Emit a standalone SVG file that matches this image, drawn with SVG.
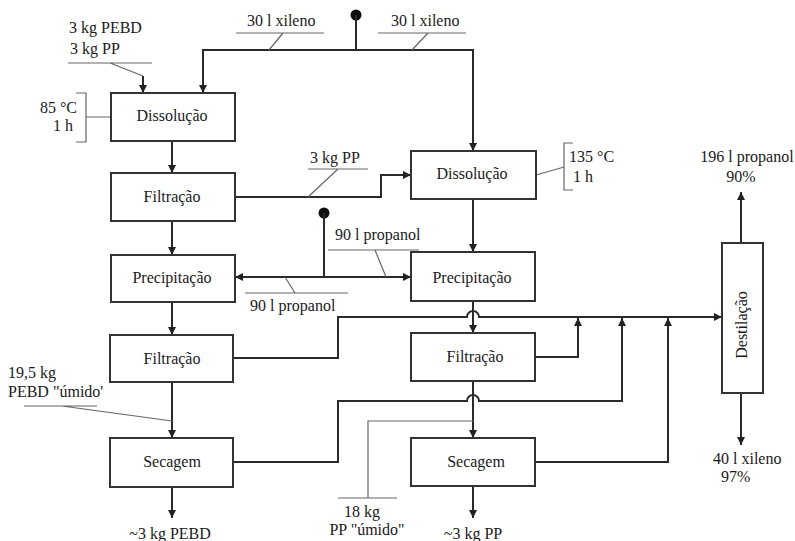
<svg xmlns="http://www.w3.org/2000/svg" width="795" height="541" viewBox="0 0 795 541">
<defs>
<marker id="ar" viewBox="0 0 10 10" refX="10" refY="5" markerWidth="8" markerHeight="8" markerUnits="userSpaceOnUse" orient="auto">
<path d="M0,0 L10,5 L0,10 z" fill="#222"/>
</marker>
<style>
.box{fill:#fff;stroke:#333;stroke-width:2}
.ln{fill:none;stroke:#2a2a2a;stroke-width:2}
.thin{fill:none;stroke:#666;stroke-width:1.2}
.t{font-size:16px;fill:#1a1a1a}
.c{text-anchor:middle}
.e{text-anchor:end}
</style>
</defs>
<rect width="795" height="541" fill="#fff"/>

<g id="connectors">
<circle cx="356" cy="15" r="5.5" fill="#111"/>
<path class="ln" d="M356,15 V50"/>
<path class="ln" d="M356,50 H203 V93" marker-end="url(#ar)"/>
<path class="ln" d="M356,50 H473 V151" marker-end="url(#ar)"/>
<path class="ln" d="M143,76 V93" marker-end="url(#ar)"/>
<path class="ln" d="M172,141 V173" marker-end="url(#ar)"/>
<path class="ln" d="M172,221 V255" marker-end="url(#ar)"/>
<path class="ln" d="M172,302 V335" marker-end="url(#ar)"/>
<path class="ln" d="M172,382 V438" marker-end="url(#ar)"/>
<path class="ln" d="M172,487 V518" marker-end="url(#ar)"/>
<path class="ln" d="M235,197 H381 V175 H411" marker-end="url(#ar)"/>
<path class="ln" d="M473,199 V252" marker-end="url(#ar)"/>
<circle cx="324" cy="213" r="5.5" fill="#111"/>
<path class="ln" d="M324,213 V277"/>
<path class="ln" d="M324,277 H235" marker-end="url(#ar)"/>
<path class="ln" d="M324,277 H411" marker-end="url(#ar)"/>
<path class="ln" d="M473,301 V333" marker-end="url(#ar)"/>
<path class="ln" d="M473,381 V438" marker-end="url(#ar)"/>
<path class="ln" d="M473,486 V518" marker-end="url(#ar)"/>
<path class="ln" d="M233,358 H338 V317 H467 A6,6 0 0 1 479,317 H722" marker-end="url(#ar)"/>
<path class="ln" d="M535,357 H578 V318" marker-end="url(#ar)"/>
<path class="ln" d="M233,462 H338 V401 H467 A6,6 0 0 1 479,401 H622 V318" marker-end="url(#ar)"/>
<path class="ln" d="M535,462 H668 V318" marker-end="url(#ar)"/>
<path class="ln" d="M741,243 V192" marker-end="url(#ar)"/>
<path class="ln" d="M741,393 V445" marker-end="url(#ar)"/>

<path class="thin" d="M236,33 H324 M283,33 L269,50"/>
<path class="thin" d="M378,33 H466 M428,33 L412,50"/>
<path class="thin" d="M68,63 H152 M110,63 L143,76"/>
<path class="thin" d="M308,169 H368 M338,169 L308,197"/>
<path class="thin" d="M328,250 H419 M375,250 L386,277"/>
<path class="thin" d="M245,293 H348 M285,277 L295,293"/>
<path class="thin" d="M24,406 H97 M62,406 L172,421"/>
<path class="thin" d="M473,421 H368 V498 M338,498 H397"/>
<path class="thin" d="M76,93 H86 V142 H76 M86,117 H111"/>
<path class="thin" d="M573,143 H564 V190 H573 M536,175 L564,167"/>
</g>

<g font-family="Liberation Serif, DejaVu Serif, serif">
<g id="n-dissolucao1"><rect class="box" x="111" y="93" width="124" height="48"/><text class="t c" x="172" y="121">Dissolução</text></g>
<g id="n-filtracao1"><rect class="box" x="111" y="173" width="124" height="48"/><text class="t c" x="172" y="202">Filtração</text></g>
<g id="n-precipitacao1"><rect class="box" x="111" y="255" width="124" height="47"/><text class="t c" x="172" y="283">Precipitação</text></g>
<g id="n-filtracao2"><rect class="box" x="110" y="335" width="123" height="47"/><text class="t c" x="172" y="364">Filtração</text></g>
<g id="n-secagem1"><rect class="box" x="110" y="438" width="123" height="49"/><text class="t c" x="172" y="467">Secagem</text></g>

<g id="n-dissolucao2"><rect class="box" x="411" y="151" width="125" height="48"/><text class="t c" x="472" y="179">Dissolução</text></g>
<g id="n-precipitacao2"><rect class="box" x="411" y="252" width="124" height="49"/><text class="t c" x="472" y="283">Precipitação</text></g>
<g id="n-filtracao3"><rect class="box" x="411" y="333" width="124" height="48"/><text class="t c" x="475" y="362">Filtração</text></g>
<g id="n-secagem2"><rect class="box" x="411" y="438" width="124" height="48"/><text class="t c" x="476" y="467">Secagem</text></g>

<g id="n-destilacao"><rect class="box" x="722" y="243" width="41" height="150"/><text class="t c" transform="translate(747,325) rotate(-90)">Destilação</text></g>

<g id="labels">
<text class="t" x="69" y="33">3 kg PEBD</text>
<text class="t" x="70" y="54">3 kg PP</text>
<text class="t" x="247" y="26">30 l xileno</text>
<text class="t" x="391" y="26">30 l xileno</text>
<text class="t e" x="77" y="113">85 °C</text>
<text class="t e" x="73" y="131">1 h</text>
<text class="t" x="310" y="163">3 kg PP</text>
<text class="t" x="569" y="162">135 °C</text>
<text class="t" x="573" y="182">1 h</text>
<text class="t" x="335" y="240">90 l propanol</text>
<text class="t" x="250" y="311">90 l propanol</text>
<text class="t c" x="747" y="162">196 l propanol</text>
<text class="t c" x="741" y="182">90%</text>
<text class="t" x="713" y="464">40 l xileno</text>
<text class="t" x="721" y="482">97%</text>
<text class="t" x="8" y="378">19,5 kg</text>
<text class="t" x="8" y="397">PEBD "úmido'</text>
<text class="t c" x="362" y="517">18 kg</text>
<text class="t c" x="367" y="535">PP "úmido"</text>
<text class="t c" x="170" y="539">~3 kg PEBD</text>
<text class="t c" x="473" y="539">~3 kg PP</text>
</g>
</g>
</svg>
